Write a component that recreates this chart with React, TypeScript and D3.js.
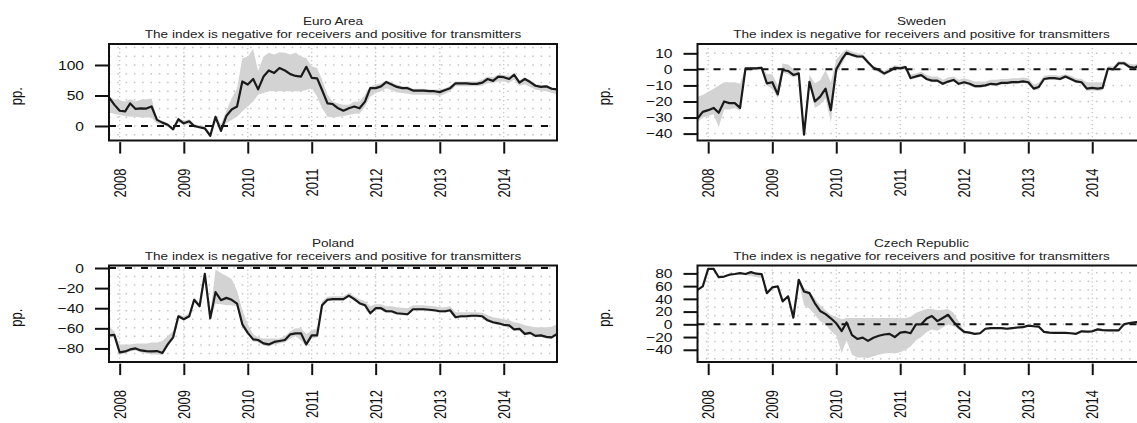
import * as d3 from 'd3'
import React, { useEffect, useRef } from "react";

// monthly observations, Nov 2007 .. Nov 2014
const months = d3.timeMonth.range(new Date(2007, 10, 1), new Date(2014, 11, 1))
const years = [2008, 2009, 2010, 2011, 2012, 2013, 2014]
const subtitle = 'The index is negative for receivers and positive for transmitters'

const euroLine = [47, 35, 25, 24, 37, 28, 29, 28.5, 32, 10, 5.5, 2, -5.5, 11, 4.4, 7.7, 0, -2, -4, -16, 15, -8, 16.5, 27, 32, 73, 68, 77, 60, 81, 91, 87, 95, 91, 85, 82, 81, 97, 79, 78, 59, 37, 36, 29, 25, 29, 32, 29, 40, 62, 62, 65, 72, 68, 64, 62, 62, 58, 58, 58, 57, 57, 55.5, 59, 62, 70, 70, 70, 69, 69, 71, 77, 74, 81, 80, 77, 84, 71, 77, 72, 66, 64, 65, 61, 60]
const euroUpper = [48, 44, 42, 40, 44, 40, 43, 44, 45, 12, 8, 5, -2, 14, 8, 11, 3, 1, 0, -12, 18, 3, 25, 45, 62, 111, 114, 126, 90, 114, 120, 117, 121, 120, 117, 120, 114, 111, 98, 95, 76, 51, 40, 37, 35, 35, 40, 40, 51, 65, 68, 70, 75, 71, 68, 65, 65, 61, 61, 61, 60, 60, 60, 62, 66, 73, 73, 73, 73, 73, 76, 81, 80, 84, 84, 82, 87, 75, 80, 75, 69, 67, 67, 64, 62]
const euroLower = [22, 20, 18, 16, 15, 15, 14, 14, 14, 4, 2, -1, -7, 6, 2, 3, -3, -4, -6, -18, 8, -10, 5, 10, 15, 24, 32, 40, 51, 54, 57, 57, 57, 57, 57, 57, 57, 59, 62, 48, 29, 15, 14, 15, 16, 18, 20, 20, 32, 48, 54, 57, 62, 59, 55, 54, 53, 51, 51, 51, 51, 51, 49, 53, 57, 65, 65, 65, 65, 65, 66, 70, 70, 73, 73, 71, 76, 66, 68, 64, 60, 58, 57, 54, 52]

const swedenLine = [-30.6, -26.5, -25.4, -24, -27, -20, -21, -21, -24, 0.6, 0.6, 0.6, 1, -8.7, -8, -15.6, -0.4, -1, -3.5, -2.5, -40.6, -7.7, -20, -17, -12, -25.4, 0, 6, 10.4, 9, 8, 8, 4.4, 1, -0.4, -2.5, -1, 1, 0.6, 1.4, -5.4, -4.4, -3.6, -6, -7, -7, -9, -7.6, -6.6, -9, -8, -9, -10.4, -10.4, -10, -9, -9.4, -8.4, -8.4, -8, -8, -7.5, -8, -12, -11, -6, -5.5, -5.5, -6, -4.5, -6, -7.5, -8, -12, -11.5, -12, -11.5, 0.5, 0, 3.8, 3.8, 1.5, 1, 3, 4]
const swedenUpper = [-17, -16, -14, -12, -10, -8, -8, -8, -9, 1.5, 1.5, 1.5, 2, -3, -3, -10, 3.7, 3, 0, 0, -38, -3.5, -8.7, -6.7, -0.4, -8, 6, 10, 12.5, 11, 10, 9.5, 6, 2, 1, -1, 1, 2.5, 2, 2.5, -3, -2.5, -1.5, -3.5, -4.5, -4.5, -6.5, -5, -4.5, -6.5, -5.5, -6.5, -7.5, -7.5, -7.5, -6.5, -6.5, -6, -6, -5.5, -5.5, -5, -5.5, -9.5, -8.5, -4, -3.5, -3.5, -4, -3, -4, -5.5, -6, -8, -8, -8, -8, 2, 2, 5, 5, 3.5, 3, 4.5, 5]
const swedenLower = [-33, -30, -29, -28, -36, -25, -25, -24, -26, -0.5, -0.5, -0.5, -0.5, -10, -12, -18, -2, -3, -5, -4, -42, -10, -24, -22, -18, -33, -3, 3, 9, 8, 7, 7, 3, 0, -2, -4, -2, 0, -0.5, 0, -6.5, -5.5, -4.5, -7, -8, -8, -10, -8.5, -7.5, -10, -9, -10, -11.5, -11.5, -11, -10, -10.5, -9.5, -9.5, -9, -9, -8.5, -9, -13, -12.5, -7, -6.5, -6.5, -7, -5.5, -7, -8.5, -9, -13.5, -13, -13.5, -13, -0.5, -1, 2.5, 2.5, 0.5, 0, 2, 3]

const polandLine = [-67, -66.5, -84, -83, -81, -80, -82, -82.6, -83, -82.6, -84.5, -76, -69, -48, -51, -48, -31.6, -38, -5.8, -50, -24, -32, -29.7, -31.6, -35.5, -56, -64.5, -71, -71.6, -75, -76, -73.5, -72.6, -71.6, -66, -65, -65, -76, -67, -67, -37, -31.6, -31, -31, -31, -27.5, -31, -35, -37, -45, -40, -40, -43, -43, -45, -45.5, -46, -41, -41, -41, -41.5, -42, -43, -43, -42, -49, -48, -48, -47.5, -47.5, -48, -52, -54, -55, -56.5, -57, -61, -60.5, -65.5, -64.5, -67.5, -67, -68.5, -69, -65.5]
const polandUpper = [-58, -63, -76, -76, -76, -75, -75, -75, -74, -74, -72.6, -67.7, -63, -46, -48, -45, -29, -35, -4, -46, -1.6, -5, -8, -11, -22.6, -42, -56, -66, -69, -70, -70, -70, -70, -68, -63, -60, -60, -66, -62, -60, -33, -28.5, -28, -28, -28, -24.5, -28, -31, -33, -38, -36, -36, -38, -38, -39, -39.5, -40, -37, -37, -37, -37.5, -38, -39, -39, -38, -44, -44, -44, -44, -44, -44.5, -47, -49, -50, -51, -52, -54, -55, -57, -58, -59, -59, -59, -58.5, -56]
const polandLower = [-70, -68, -86, -85, -83, -82, -84, -85, -86, -86, -86.5, -78, -71, -49, -52, -49, -33, -39, -7, -51, -35.5, -36, -37, -37, -38, -58, -66, -73, -74, -77, -78, -76, -75, -74, -70, -68, -72, -78, -70, -69, -39, -33, -32.5, -32.5, -32.5, -29, -32.5, -36.5, -38.5, -46.5, -41.5, -41.5, -44.5, -44.5, -46.5, -47, -47.5, -42.5, -42.5, -42.5, -43, -43.5, -44.5, -44.5, -43.5, -50.5, -49.5, -49.5, -49, -49, -49.5, -53.5, -55.5, -56.5, -58, -58.5, -62.5, -62, -67, -66, -69, -68.5, -70, -70.5, -67]

const czechLine = [54, 59.5, 87, 87, 74, 75, 78, 79, 80.5, 79, 82, 79.5, 79, 49, 58, 59.5, 36, 44, 10.5, 70, 51.6, 49, 33, 21, 16, 9.5, 1.6, -10.5, 3, -17, -23, -21, -26, -21, -18, -16, -15, -20, -13, -12, -14, 0, 0, 9, 13, 5, 10, 15, 4, -5, -12, -13, -15, -14, -7, -6, -6, -6, -7, -6, -5, -4.5, -2, -3, -3.5, -12, -13, -13.5, -13.5, -13.5, -14, -15, -11, -11.5, -11, -8, -9, -9.5, -9.5, -9.5, 0, 2, 3, 4, 5]
const czechUpper = [55, 60.5, 88, 88, 75, 76, 79, 80, 81.5, 80, 83, 80.5, 80, 50, 59, 60.5, 37, 45, 11.5, 71, 57, 52, 40, 30, 22, 15, 12, 8, 10, 10, 10, 10, 10, 10, 10, 10, 10, 10, 10, 10, 12, 18, 21, 24, 24, 22, 23, 24, 18, 5, -10, -11.5, -13.5, -12.5, -5.5, -4.5, -4.5, -4.5, -5.5, -4.5, -3.5, -3, -0.5, -1.5, -2, -10.5, -11.5, -12, -12, -12, -12.5, -13.5, -9.5, -10, -9.5, -6.5, -7.5, -8, -8, -8, 1.5, 3.5, 4.5, 5.5, 6.5]
const czechLower = [53, 58.5, 86, 86, 73, 74, 77, 78, 79.5, 77, 76, 74, 73, 48, 57, 58.5, 35, 43, 9.5, 68, 30, 25, 15, 5, 0, -10, -18, -45, -25, -48, -52, -52, -53, -50, -48, -46, -45, -46, -44, -40, -35, -25, -20, -12, -8, -10, -5, 0, -3, -8, -14, -14.5, -16.5, -15.5, -8.5, -7.5, -7.5, -7.5, -8.5, -7.5, -6.5, -6, -3.5, -4.5, -5, -13.5, -14.5, -15, -15, -15, -15.5, -16.5, -12.5, -13, -12.5, -9.5, -10.5, -11, -11, -11, -1.5, 0.5, 1.5, 2.5, 3.5]

const panels = [
    { title: 'Euro Area', line: euroLine, upper: euroUpper, lower: euroLower, domain: [-23.8, 134.4], ticks: [0, 50, 100], gridStep: 100 / 7, col: 0, row: 0 },
    { title: 'Sweden', line: swedenLine, upper: swedenUpper, lower: swedenLower, domain: [-44.3, 15.8], ticks: [10, 0, -10, -20, -30, -40], gridStep: 10, col: 1, row: 0 },
    { title: 'Poland', line: polandLine, upper: polandUpper, lower: polandLower, domain: [-93.5, 2.5], ticks: [0, -20, -40, -60, -80], gridStep: 8.5, col: 0, row: 1 },
    { title: 'Czech Republic', line: czechLine, upper: czechUpper, lower: czechLower, domain: [-59.2, 92.4], ticks: [80, 60, 40, 20, 0, -20, -40], gridStep: 13.5, col: 1, row: 1 },
]

const W = 1137
const H = 423
const boxW = 448
const boxH = 96.5
const colLeft = [109, 697.5]
const rowTop = [44, 265.5]
const font = '"Liberation Sans", Arial, Helvetica, sans-serif'
const titleSize = 11.3
const axisSize = 13
// the picture is a little wider than tall, so the glyphs are stretched sideways
const stretch = 1.2

const App: React.FC = () => {
    const ref = useRef<SVGSVGElement>(null);

    useEffect(() => {
        if (!ref.current) return
        const svg = d3.select(ref.current)
        svg.selectAll('*').remove()

        panels.forEach((p, pi) => {
            const left = colLeft[p.col]
            const top = rowTop[p.row]
            const g = svg.append('g').attr('transform', `translate(${left},${top})`)

            const x = d3.scaleTime().domain([months[0], months[months.length - 1]]).range([0, boxW])
            const y = d3.scaleLinear().domain(p.domain).range([boxH, 0])

            const clipId = `clip-${pi}`
            g.append('clipPath').attr('id', clipId)
                .append('rect').attr('width', boxW).attr('height', boxH)
            const inner = g.append('g').attr('clip-path', `url(#${clipId})`)

            // dotted grid
            const rows: number[] = []
            for (let v = 0; v <= p.domain[1]; v += p.gridStep) rows.push(v)
            for (let v = -p.gridStep; v >= p.domain[0]; v -= p.gridStep) rows.push(v)
            inner.selectAll('.hgrid').data(rows).enter().append('line')
                .attr('x1', 0).attr('x2', boxW)
                .attr('y1', d => y(d)).attr('y2', d => y(d))
                .attr('stroke', '#c4c4c4').attr('stroke-width', 1.5)
                .attr('stroke-dasharray', '1.5,6.8')
            const yearDates = years.map(yr => new Date(yr, 0, 1))
            inner.selectAll('.vgrid').data(yearDates).enter().append('line')
                .attr('x1', d => x(d)).attr('x2', d => x(d))
                .attr('y1', 0).attr('y2', boxH)
                .attr('stroke', '#c4c4c4').attr('stroke-width', 1.3)
                .attr('stroke-dasharray', '1.3,2.7')

            // band
            const area = d3.area<number>()
                .x((_, i) => x(months[i]))
                .y0((_, i) => y(p.lower[i]))
                .y1((_, i) => y(p.upper[i]))
            inner.append('path').datum(p.line).attr('d', area).attr('fill', '#d3d3d3')

            // zero line
            inner.append('line')
                .attr('x1', 0).attr('x2', boxW).attr('y1', y(0)).attr('y2', y(0))
                .attr('stroke', '#111').attr('stroke-width', 2).attr('stroke-dasharray', '7,9')

            const line = d3.line<number>()
                .x((_, i) => x(months[i]))
                .y(d => y(d))
            inner.append('path').datum(p.line).attr('d', line)
                .attr('fill', 'none').attr('stroke', '#1a1a1a').attr('stroke-width', 2.2)
                .attr('stroke-linejoin', 'round')

            g.append('rect').attr('width', boxW).attr('height', boxH)
                .attr('fill', 'none').attr('stroke', '#111').attr('stroke-width', 2)

            // y axis
            const ya = g.append('g').call(d3.axisLeft(y).tickValues(p.ticks).tickSize(14))
            ya.select('.domain').remove()
            ya.selectAll('line').attr('stroke', '#111').attr('stroke-width', 2)
            ya.selectAll('text')
                .attr('x', 0)
                .attr('transform', `translate(-25,0) scale(${stretch},1)`)
                .attr('font-family', font).attr('font-size', axisSize).attr('fill', '#111')

            // x axis
            const xa = g.append('g').attr('transform', `translate(0,${boxH + 1.6})`)
                .call(d3.axisBottom(x).tickValues(yearDates).tickSize(11.5)
                    .tickFormat(d => d3.timeFormat('%Y')(d as Date)))
            xa.select('.domain').remove()
            xa.selectAll('line').attr('stroke', '#111').attr('stroke-width', 2)
            xa.selectAll('text')
                .attr('transform', `translate(0,26.5) rotate(-90) scale(1,${stretch})`)
                .attr('x', 0).attr('y', 0).attr('dy', '0.35em')
                .attr('text-anchor', 'end')
                .attr('font-family', font).attr('font-size', axisSize).attr('fill', '#111')

            // titles
            g.append('text')
                .attr('transform', `translate(${boxW / 2},-19) scale(${stretch},1)`)
                .attr('text-anchor', 'middle').attr('font-family', font).attr('font-size', titleSize)
                .attr('fill', '#222').text(p.title)
            g.append('text')
                .attr('transform', `translate(${boxW / 2},-6) scale(${stretch},1)`)
                .attr('text-anchor', 'middle').attr('font-family', font).attr('font-size', titleSize)
                .attr('fill', '#222').text(subtitle)

            g.append('text')
                .attr('transform', `translate(-92.5,${boxH / 2 + 4}) rotate(-90) scale(1,${stretch})`)
                .attr('text-anchor', 'middle').attr('dy', '0.35em')
                .attr('font-family', font).attr('font-size', axisSize).attr('fill', '#111')
                .text('pp.')
        })
    }, [])

    return (
        <svg ref={ref} width={W} height={H}
            style={{ position: 'absolute', left: 0, top: 0, background: '#fff' }}></svg>
    );
}

export default App;
